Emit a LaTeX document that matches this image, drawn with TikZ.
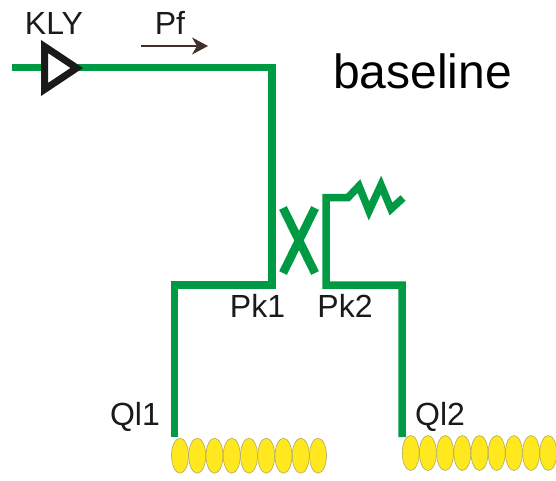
\documentclass[tikz,border=0pt]{standalone}
\usepackage{fontspec}
\setmainfont{Liberation Sans}
\usetikzlibrary{shapes.geometric,arrows.meta}
\definecolor{wg}{HTML}{009A44}
\definecolor{cav}{HTML}{FFE81E}
\definecolor{cavedge}{HTML}{B0A860}
\definecolor{txt}{HTML}{1A1A1A}
\definecolor{pfc}{HTML}{40302A}
\tikzset{
  guide/.style={draw=wg,line width=7.5pt,line join=miter},
  crossbar/.style={draw=wg,line width=8.5pt},
  lbl/.style={font=\fontsize{32}{32}\selectfont,text=txt,inner sep=0pt,anchor=base},
  cavity/.style={ellipse,draw=cavedge,line width=0.6pt,fill=cav,minimum width=17pt,minimum height=35pt,inner sep=0pt},
}
\begin{document}
\begin{tikzpicture}[x=1pt,y=-1pt]
\useasboundingbox (0,0) rectangle (556,480);
\coordinate (in) at (12,67.5);
\coordinate (c1) at (272,67.5);
\coordinate (j1) at (272,285);
\coordinate (c2) at (174.5,285);
\coordinate (e1) at (174.5,437);
\coordinate (j2) at (326,285);
\coordinate (c3) at (402,285);
\coordinate (e2) at (402,437);
\coordinate (c4) at (326,197.5);
\coordinate (r0) at (348,197.5);
\coordinate (r1) at (359,186);
\coordinate (r2) at (369,211);
\coordinate (r3) at (381,185);
\coordinate (r4) at (391,209);
\coordinate (r5) at (403,198);
\coordinate (x1) at (283,208);
\coordinate (x2) at (315,273);
\coordinate (x3) at (315,208);
\coordinate (x4) at (283,273);
\coordinate (pa) at (141,46);
\coordinate (pb) at (208,46);
\coordinate (t1) at (44.5,46.5);
\coordinate (t2) at (44.5,89.5);
\coordinate (t3) at (76.7,68);
% waveguides
\draw[guide] (in) -- (c1) -- (j1) -- (c2) -- (e1);
\draw[guide] (e2) -- (c3) -- (j2) -- (c4) -- (r0) -- (r1) -- (r2) -- (r3) -- (r4) -- (r5);
\draw[crossbar] (x1) -- (x2);
\draw[crossbar] (x3) -- (x4);
% klystron
\draw[draw=txt,fill=white,line width=7pt,miter limit=10] (t1) -- (t2) -- (t3) -- cycle;
% power arrow
\draw[draw=pfc,line width=1.5pt,-{Stealth[length=16pt,width=17pt,inset=5pt]}] (pa) -- (pb);
% labels
\node[lbl] (kly) at (54,34) {KLY};
\node[lbl] (pf) at (170,34) {Pf};
\node[lbl,text=black,font=\fontsize{48}{48}\selectfont] (base) at (422.5,88) {baseline};
\node[lbl] (pk1) at (257.5,317) {Pk1};
\node[lbl] (pk2) at (345,317) {Pk2};
\node[lbl] (ql1) at (135,425) {Ql1};
\node[lbl] (ql2) at (440,425) {Ql2};
% cavities
\foreach \i in {0,...,8}{
  \node[cavity] (a\i) at ({180+17.25*\i},455.7) {};
  \node[cavity] (b\i) at ({410.7+17.2*\i},453) {};
}
\end{tikzpicture}
\end{document}
